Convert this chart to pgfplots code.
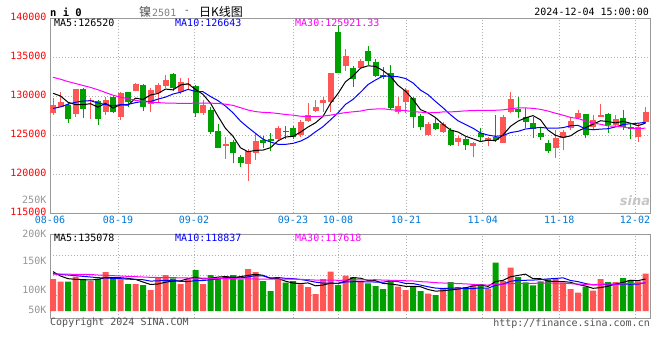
\documentclass[border=0pt]{standalone}
\usepackage{pgfplots}
\usepackage{pgfplotstable}
\pgfplotsset{compat=1.18}
\usepackage{fontspec}
\setmainfont{DejaVu Sans Mono}
\newfontfamily\cjk{Noto Sans CJK SC}
\newfontfamily\sinafont{DejaVu Sans}
\definecolor{cred}{RGB}{255,85,85}
\definecolor{cgreen}{RGB}{0,160,0}
\definecolor{cblue}{RGB}{0,0,255}
\definecolor{cmag}{RGB}{255,0,255}
\definecolor{cdate}{RGB}{0,120,215}
\definecolor{cborder}{RGB}{153,153,153}
\definecolor{cgrid}{RGB}{175,175,175}
\definecolor{cvol}{RGB}{150,150,150}
\definecolor{ctext}{RGB}{80,80,80}

% up (red) candles: x open close high low volume
\pgfplotstableread{
x O C H L V
0 127865 128850 129790 127570 134400
1 128630 129280 130520 128550 123200
3 127740 130900 130900 127350 144200
5 129380 129510 129790 127050 126000
7 127950 129490 129900 127570 163800
9 127350 130430 130560 126970 133000
11 130690 131580 131710 130600 113400
13 128930 130770 130990 127990 88200
14 130340 131410 131630 129280 142800
15 131280 132050 132700 130990 151200
17 130560 131750 132310 130300 113400
18 131460 131580 132310 130860 135800
20 127780 128850 129490 127600 113400
23 123630 123800 124700 121970 147000
26 121330 122900 123160 119150 176400
27 122700 124230 125100 121800 163800
30 124490 125850 126150 124270 133000
33 125000 126670 126920 124790 112000
34 126790 127560 129150 126700 100800
35 128120 128550 129490 127990 71400
36 129150 129490 129910 127990 134400
37 129270 132990 133000 127990 165200
39 133890 135130 135980 133250 148400
41 133590 134490 134790 133400 123200
46 127990 128720 129910 127700 102200
47 129270 130810 130980 127780 88200
50 124960 126410 126710 124900 72800
52 125430 126410 126710 125300 96600
54 124150 124660 124900 123590 100800
56 123630 124020 124150 122120 107800
58 124270 124570 124790 123550 93800
60 124020 127350 127560 123930 126000
61 128000 129600 130560 127780 182000
67 123300 124660 125700 122000 134400
68 124570 125340 125640 123080 119000
69 125860 126800 127140 125640 92400
70 127220 127860 128200 127140 77000
72 125980 126920 127560 125730 85400
73 127350 127560 128980 127350 134400
75 126240 127010 127560 126070 121800
78 124790 125980 126500 124150 124600
79 126710 127910 128550 126500 156800
}\redtab

% down (green) candles
\pgfplotstableread{
x O C H L V
2 128850 127050 129280 126580 123200
4 130900 128340 130980 127180 134400
6 129400 127050 129500 126330 135800
8 129870 127910 130080 127780 140000
10 130515 129230 130560 128630 113400
12 131410 128630 131580 128120 109200
16 132820 131070 132990 130690 137200
19 131280 127780 131410 127350 172200
21 128210 125430 128630 125130 151200
22 125510 123380 126410 123300 140000
24 124100 122740 124360 121370 151200
25 122180 121450 122440 120940 133000
28 124360 124020 124870 123380 126000
29 124440 124270 125210 122990 84000
31 125510 125340 126150 124490 119000
32 125850 124700 126150 124490 126000
38 138250 132990 138970 132990 109200
40 133590 132220 133890 131200 142800
42 135770 134530 136450 134020 116200
43 134360 132610 134700 132400 105000
44 132730 132480 133760 132180 92400
45 132990 128500 133970 128300 130200
48 129700 127260 129910 125940 105000
49 127480 125980 127650 125600 84000
51 126500 125730 127220 125600 67200
53 125640 123720 125940 123630 121800
55 124440 123720 124700 123080 100800
57 125210 124700 125850 124060 113400
59 124700 124360 127560 124150 203000
62 128330 127990 129910 127140 142800
63 127310 126710 128420 125850 120400
64 126500 125770 127350 124660 107800
65 125210 124700 125860 124360 124600
66 123930 122950 124360 122650 133000
71 127690 125000 127700 124570 102200
74 127690 126280 127860 125210 121800
76 127140 125980 128210 125640 138600
77 125980 125730 126580 124450 130200
}\greentab

% moving averages: price MA5/10/30, volume MA5/10/30
\pgfplotstableread{
x m5 m10 m30 v5 v10 v30
0 130350 128400 132400 165200 156800 155400
1 130000 128600 132150 147000 154000 155400
2 129200 128950 131850 135800 151200 154700
3 128900 129200 131600 133000 148400 154000
4 128884 129350 131350 131880 145600 154000
5 129016 129400 131100 130200 142800 153300
6 128570 129100 130800 132720 140000 151200
7 129058 128900 130450 140840 138600 149800
8 128460 128750 130100 140000 137200 148400
9 128878 128881 129850 139720 135800 147000
10 128822 128919 129650 137200 133700 145600
11 129728 129149 129450 132720 132720 144200
12 129556 129307 129300 121800 131320 142800
13 130128 129294 129200 111440 125720 141400
14 130324 129601 129150 113400 126560 140700
15 130888 129855 129100 120960 129080 140000
16 130786 130257 129080 125720 129220 140000
17 131410 130483 129060 126560 124180 139300
18 131572 130850 129060 136080 123760 138600
19 130846 130585 129080 141960 127680 138600
20 130206 130547 129100 134400 127680 137900
21 129078 129932 129080 137200 131460 137200
22 127404 129407 129050 142520 134540 137200
23 125848 128710 128950 144760 140420 136500
24 124840 127843 128800 140560 141260 135800
25 123360 126783 128500 144480 139440 135100
26 122854 125966 128200 149520 143360 135100
27 123024 125214 128000 154280 148400 134400
28 123068 124458 127900 150080 147420 134400
29 123374 124107 127858 136640 138600 133980
30 124254 123807 127758 136640 140560 133980
31 124742 123798 127626 125160 137340 133840
32 124836 123930 127548 117600 135940 133980
33 125366 124217 127407 114800 132440 132860
34 126024 124699 127381 118160 127400 131740
35 126564 125409 127349 105840 121240 129920
36 127394 126068 127430 108920 117040 129920
37 129052 126944 127547 116760 117180 129920
38 130316 127841 127716 116200 115500 128940
39 131830 128927 127873 125720 121940 129360
40 132564 129564 127973 140000 122920 130340
41 133564 130479 128070 137760 123340 130760
42 133872 131462 128266 127960 122360 130900
43 133796 132056 128328 127120 121660 131460
44 133266 132548 128363 115920 120820 129780
45 132522 132543 128245 113400 126700 129080
46 131368 132466 128167 109200 123480 127960
47 130624 132248 128135 103600 115780 127120
48 129554 131675 127991 103600 115360 126140
49 128254 130760 127931 101920 108920 123200
50 127836 130179 127850 90440 101920 121800
51 127238 129303 127860 83440 96320 119000
52 126358 128491 127961 85120 94360 117600
53 125650 127602 127958 88480 96040 116760
54 125386 126820 128022 91840 96880 115080
55 124848 126342 128098 97440 93940 113960
56 124506 125872 128135 105560 94500 111720
57 124164 125261 128151 108920 97020 110040
58 124334 124992 128169 103320 95900 108920
59 124274 124830 128172 123760 107800 112840
60 125000 124924 128222 128800 113120 112700
61 126116 125311 128364 143640 124600 114800
62 126774 125469 128474 149520 129220 115360
63 127202 125768 128475 154840 129080 115640
64 127484 125879 128416 135800 129780 115780
65 126954 125977 128287 135520 132160 117600
66 125624 125870 128069 125720 134680 117600
67 124958 125866 127792 124040 136780 116480
68 124684 125943 127537 123760 139300 116900
69 124890 126187 127259 120680 128240 114940
70 125522 126238 127114 111160 123340 112840
71 125932 125778 126797 105000 115360 112140
72 126384 125671 126544 95200 109620 111020
73 126828 125756 126375 98280 111020 112000
74 126724 125807 126169 104160 112420 112980
75 126554 126038 126119 113120 112140 112700
76 126750 126341 126028 120400 112700 113960
77 126512 126448 125858 129360 112280 115360
78 126196 126512 125816 127400 112840 116060
79 126522 126623 125880 134400 119280 118440
}\matab

\begin{document}
\begin{tikzpicture}
\useasboundingbox (0pt,0pt) rectangle (660pt,360pt);
\pgfplotsset{
  sinabase/.style={
    scale only axis, width=600pt,
    xmin=-0.4, xmax=79.6,
    scaled ticks=false,
    axis line style={draw=cborder, line width=1pt},
    major tick length=0pt, tick style={draw=none},
    grid style={draw=cgrid, line width=0.8pt, dash pattern=on 1pt off 2pt},
    xmajorgrids, ymajorgrids,
    tick label style={font=\fontsize{10}{12}\selectfont},
    xtick={-0.4,8.67,18.8,32,38,47.07,57.3,67.5,77.6},
    clip=true,
  },
  wick/.style={forget plot, draw=none, mark=none,
    error bars/.cd, y dir=plus, y explicit, error mark=none,
    error bar style={line width=1pt, draw=#1, solid}},
  body/.style={forget plot, draw=none, mark=none,
    error bars/.cd, y dir=plus, y explicit, error mark=none,
    error bar style={line width=6pt, draw=#1, solid}},
}
% ---------- price panel ----------
\begin{axis}[sinabase, at={(50pt,147pt)}, anchor=south west, height=195pt,
  ymin=115000, ymax=140000,
  ytick={115000,120000,125000,130000,135000,140000},
  yticklabels={115000,120000,125000,130000,135000,140000},
  yticklabel style={text=red, yshift=1.5pt},
  xticklabels={08-06,08-19,09-02,09-23,10-08,10-21,11-04,11-18,12-02},
  xticklabel style={text=cdate},
]
\addplot[wick=cred] table[x=x, y=L, y error expr=\thisrow{H}-\thisrow{L}] {\redtab};
\addplot[wick=cgreen] table[x=x, y=L, y error expr=\thisrow{H}-\thisrow{L}] {\greentab};
\addplot[body=cred] table[x=x, y=O, y error expr=\thisrow{C}-\thisrow{O}] {\redtab};
\addplot[body=cgreen] table[x=x, y=C, y error expr=\thisrow{O}-\thisrow{C}] {\greentab};
\addplot[mark=none, black, line width=1pt] table[x=x, y=m5] {\matab};
\addplot[mark=none, cblue, line width=1pt] table[x=x, y=m10] {\matab};
\addplot[mark=none, cmag, line width=1pt] table[x=x, y=m30] {\matab};
\end{axis}
% ---------- volume panel ----------
\begin{axis}[sinabase, at={(50pt,42pt)}, anchor=south west, height=84pt,
  ymin=-29400, ymax=323400,
  ytick={67200,151200,235200}, yticklabels={,,},
  extra y ticks={4200,88200,210000,323400},
  extra y tick labels={50K,100K,150K,200K},
  extra y tick style={grid=none},
  yticklabel style={text=cvol},
  xticklabels={,,,,,,,,},
]
\addplot[ybar, bar width=6pt, bar shift=0pt, fill=cred, draw=none, forget plot] table[x=x, y=V] {\redtab};
\addplot[ybar, bar width=6pt, bar shift=0pt, fill=cgreen, draw=none, forget plot] table[x=x, y=V] {\greentab};
\addplot[mark=none, black, line width=1pt] table[x=x, y=v5] {\matab};
\addplot[mark=none, cblue, line width=1pt] table[x=x, y=v10] {\matab};
\addplot[mark=none, cmag, line width=1pt] table[x=x, y=v30] {\matab};
\end{axis}
% ---------- texts ----------
\tikzset{lbl/.style={inner sep=0pt, font=\fontsize{10}{12}\selectfont}}
\node[lbl, anchor=west, font=\bfseries\fontsize{10.5}{12}\selectfont] at (50pt,348pt) {n i 0};
\node[lbl, anchor=west, font=\cjk\fontsize{12}{14}\selectfont, text=ctext] at (139pt,348pt) {镍};
\node[lbl, anchor=west, text=gray] at (152pt,347.5pt) {2501};
\node[lbl, text=ctext] at (187pt,348pt) {-};
\node[lbl, anchor=west, font=\cjk\fontsize{12}{14}\selectfont] at (199pt,348pt) {日K线图};
\node[lbl, anchor=east] at (649pt,348pt) {2024-12-04 15:00:00};
\node[lbl, anchor=west] at (54pt,337pt) {MA5:126520};
\node[lbl, anchor=west, text=cblue] at (175pt,337pt) {MA10:126643};
\node[lbl, anchor=west, text=cmag] at (295pt,337pt) {MA30:125921.33};
\node[lbl, anchor=west] at (54pt,122pt) {MA5:135078};
\node[lbl, anchor=west, text=cblue] at (175pt,122pt) {MA10:118837};
\node[lbl, anchor=west, text=cmag] at (295pt,122pt) {MA30:117618};
\node[lbl, anchor=east, text=cvol] at (46.5pt,160pt) {250K};
\node[lbl, anchor=west, text=ctext] at (50pt,37pt) {Copyright 2024 SINA.COM};
\node[lbl, anchor=east, text=ctext] at (650pt,36pt) {http://finance.sina.com.cn};
\node[lbl, text=gray!45, font=\sinafont\bfseries\itshape\fontsize{13}{13}\selectfont] at (635pt,159pt) {sina};
\end{tikzpicture}
\end{document}
